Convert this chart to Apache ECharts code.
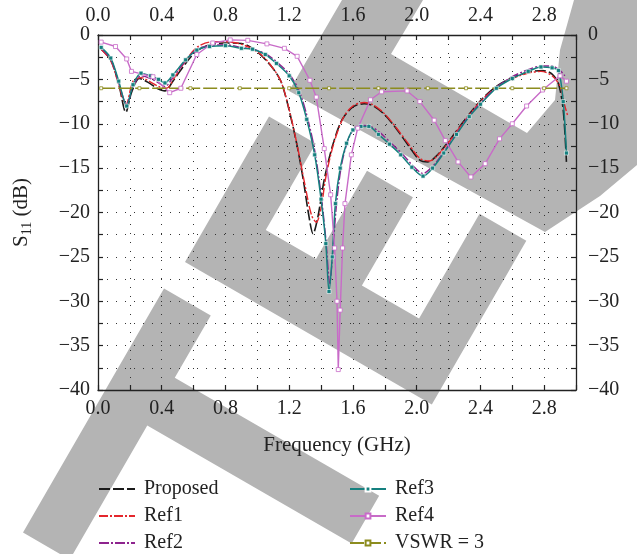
<!DOCTYPE html>
<html>
<head>
<meta charset="utf-8">
<script src="https://cdn.jsdelivr.net/npm/echarts@6/dist/echarts.min.js"></script>
<style>
  html, body { margin: 0; background: #fff; }
  #chart { width: 637px; height: 554px; }
</style>
</head>
<body>
<div id="chart"></div>
<script>
// frequency (GHz) / S11 (dB)
const proposedFreq = [0.02,0.08,0.13,0.175,0.21,0.26,0.32,0.37,0.42,0.47,0.55,0.62,0.7,0.8,0.9,0.97,1.03,1.1,1.15,1.2,1.25,1.29,1.32,1.35,1.38,1.42,1.47,1.53,1.6,1.67,1.73,1.8,1.87,1.95,2.02,2.07,2.12,2.2,2.3,2.4,2.5,2.6,2.7,2.79,2.85,2.89,2.92,2.94];
const proposedDb = [-1.6,-2.8,-5.5,-8.7,-6.5,-4.9,-5.4,-6.0,-6.3,-5.2,-3.2,-1.8,-1.1,-0.9,-0.95,-1.5,-2.4,-3.8,-5.3,-8.5,-12.5,-16.5,-20,-22.4,-20.5,-16.3,-12.6,-9.6,-8.1,-7.75,-8.0,-9.0,-10.5,-12.5,-14.1,-14.3,-13.7,-12.0,-9.6,-7.4,-5.8,-4.8,-4.2,-4.0,-4.4,-5.5,-8.5,-14.3];

const ref1Freq = [0.02,0.08,0.13,0.175,0.22,0.27,0.33,0.38,0.43,0.48,0.55,0.62,0.7,0.78,0.87,0.95,1.03,1.1,1.15,1.2,1.25,1.3,1.34,1.37,1.4,1.43,1.48,1.54,1.6,1.67,1.73,1.8,1.87,1.95,2.02,2.08,2.13,2.2,2.3,2.4,2.5,2.6,2.7,2.78,2.85,2.9,2.93,2.95];
const ref1Db = [-1.6,-2.9,-5.6,-7.9,-5.2,-4.8,-5.3,-5.8,-6.0,-4.8,-2.9,-1.4,-0.8,-0.75,-0.9,-1.4,-2.3,-3.8,-5.3,-8.4,-12.4,-17.0,-20.3,-21.1,-19.5,-16.0,-12.2,-9.3,-8.0,-7.6,-7.9,-8.9,-10.4,-12.3,-13.9,-14.2,-13.6,-12.1,-9.7,-7.5,-5.9,-4.9,-4.3,-4.1,-4.6,-5.8,-8.0,-9.2];

const ref2Freq = [0.02,0.08,0.13,0.18,0.22,0.27,0.33,0.38,0.42,0.47,0.55,0.62,0.7,0.8,0.9,0.97,1.05,1.12,1.2,1.26,1.31,1.36,1.4,1.43,1.455,1.475,1.5,1.53,1.57,1.61,1.66,1.71,1.77,1.84,1.91,1.98,2.04,2.1,2.17,2.25,2.33,2.4,2.5,2.6,2.7,2.78,2.85,2.9,2.93];
const ref2Db = [-1.5,-2.7,-5.4,-7.8,-5.8,-4.6,-4.9,-5.4,-5.8,-4.8,-2.9,-1.6,-1.2,-1.1,-1.4,-1.6,-2.1,-3.0,-4.4,-6.2,-9.0,-13.0,-18.0,-23.0,-28.0,-24.0,-18.5,-14.5,-11.8,-10.5,-10.2,-10.3,-11.0,-12.2,-13.4,-14.8,-15.6,-14.8,-13.2,-11.1,-9.1,-7.7,-5.9,-4.7,-3.9,-3.5,-3.5,-4.0,-4.6];

const ref3Freq = [0.02,0.08,0.13,0.18,0.22,0.27,0.33,0.38,0.42,0.47,0.55,0.62,0.7,0.8,0.9,0.97,1.05,1.12,1.2,1.26,1.31,1.36,1.4,1.43,1.45,1.47,1.49,1.52,1.56,1.6,1.65,1.7,1.76,1.83,1.9,1.97,2.04,2.1,2.17,2.25,2.33,2.4,2.5,2.6,2.7,2.78,2.85,2.89,2.92,2.94];
const ref3Db = [-1.4,-2.6,-5.2,-8.0,-5.6,-4.3,-4.6,-5.0,-5.4,-4.5,-2.8,-1.7,-1.3,-1.2,-1.5,-1.6,-2.2,-3.2,-4.6,-6.5,-9.5,-13.5,-18.5,-23.5,-28.9,-25.0,-19.0,-15.0,-12.2,-10.7,-10.3,-10.3,-11.2,-12.3,-13.5,-14.9,-15.9,-15.0,-13.3,-11.2,-9.2,-7.8,-6.0,-4.9,-4.1,-3.6,-3.7,-4.0,-7.5,-13.3];

const ref4Freq = [0.02,0.11,0.18,0.21,0.345,0.45,0.52,0.62,0.72,0.83,0.94,1.06,1.17,1.25,1.33,1.37,1.42,1.46,1.485,1.5,1.508,1.52,1.535,1.55,1.59,1.63,1.71,1.78,1.94,2.02,2.11,2.18,2.26,2.34,2.43,2.52,2.6,2.69,2.79,2.9,2.94];
const ref4Db = [-0.8,-1.3,-2.7,-4.1,-4.7,-6.5,-6.0,-2.2,-0.9,-0.55,-0.6,-1.0,-1.5,-2.4,-5.1,-7.0,-12.8,-18.0,-24.0,-30.0,-37.7,-31.0,-24.0,-19.0,-13.5,-10.5,-7.3,-6.4,-6.3,-7.5,-9.6,-11.9,-14.3,-16.0,-14.5,-11.7,-10.0,-8.0,-6.2,-4.6,-5.2];

const vswrFreq = [0.02,0.26,0.58,0.89,1.2,1.45,1.76,2.07,2.31,2.6,2.8,2.94];
const vswrDb = [-6.0,-6.0,-6.0,-6.0,-6.0,-6.0,-6.0,-6.0,-6.0,-6.0,-6.0,-6.0];

const xTicks = [0.0, 0.4, 0.8, 1.2, 1.6, 2.0, 2.4, 2.8];
const yTicks = [0, -5, -10, -15, -20, -25, -30, -35, -40];

const FONT = "\"Liberation Serif\", \"DejaVu Serif\", serif";
const INK = "#222";
const WM_GRAY = "#b4b4b4";

// background watermark letters, drawn in a rotated letter frame
const WM_ANGLE = 30 * Math.PI / 180;
function wmPoints(origin, pts) {
  const c = Math.cos(WM_ANGLE), s = Math.sin(WM_ANGLE);
  return pts.map(([a, b]) => [origin[0] + a * c + b * s, origin[1] + a * s - b * c]);
}
const wmShapes = [
  wmPoints([58, 472], [[0,-70],[54,-70],[54,85],[290,85],[290,140],[54,140],[54,212],[0,212]]),
  wmPoints([185, 262], [[0,0],[285,0],[285,189],[231,189],[231,68],[165,68],[165,170],[112,170],[112,68],[54,68],[54,168],[0,168]]),
  // curved letter at the top right, traced directly in pixels
  [[342,0],[289,91],[545,232],[600,196],[637,165],[637,0],[574,0],[560,50],[555,100],[527,133],[391,54],[423,0]]
];

function pairs(xs, ys) { return xs.map((x, i) => [x, ys[i]]); }
function minus(v) { return v < 0 ? "\u2212" + Math.abs(v) : String(v); }

function xAxisOf(position, withName) {
  return {
    type: "value", position, min: 0, max: 3, interval: 0.2,
    axisLine: { onZero: false, lineStyle: { color: INK, width: 1.3 } },
    axisTick: { inside: true, length: 5, lineStyle: { color: INK, width: 1.2 } },
    axisLabel: {
      color: INK, fontFamily: FONT, fontSize: 20, margin: 9,
      formatter: v => xTicks.some(t => Math.abs(t - v) < 1e-6) ? v.toFixed(1) : ""
    },
    splitLine: { show: withName, lineStyle: { color: "#333", width: 1, type: [1, 8] } },
    name: withName ? "Frequency (GHz)" : "",
    nameLocation: "middle", nameGap: 45,
    nameTextStyle: { color: INK, fontFamily: FONT, fontSize: 21 }
  };
}
function yAxisOf(position, withName) {
  return {
    type: "value", position, min: -40, max: 0, interval: 2.5,
    axisLine: { onZero: false, lineStyle: { color: INK, width: 1.3 } },
    axisTick: { inside: true, length: 5, lineStyle: { color: INK, width: 1.2 } },
    axisLabel: {
      color: INK, fontFamily: FONT, fontSize: 20, margin: position === "left" ? 8 : 12,
      formatter: v => yTicks.includes(v) ? minus(v) : ""
    },
    splitLine: { show: withName, lineStyle: { color: "#333", width: 1, type: [1, 8] } },
    name: withName ? "{s|S}{sub|11}{s| (dB)}" : "",
    nameLocation: "middle", nameGap: 64,
    nameTextStyle: {
      color: INK, fontFamily: FONT,
      rich: {
        s: { fontFamily: FONT, fontSize: 21, color: INK, lineHeight: 26, verticalAlign: "middle" },
        sub: { fontFamily: FONT, fontSize: 14, color: INK, lineHeight: 26, verticalAlign: "bottom" }
      }
    }
  };
}

function lineSeries(name, xs, ys, color, extra) {
  return Object.assign({
    type: "line", name, data: pairs(xs, ys),
    xAxisIndex: 0, yAxisIndex: 0,
    smooth: 0.3, symbol: "none",
    lineStyle: { color, width: 1.5 },
    itemStyle: { color: "rgba(0,0,0,0)" },
    emphasis: { disabled: true }
  }, extra);
}

const series = [
  lineSeries("Proposed", proposedFreq, proposedDb, "#1a1a1a", { lineStyle: { color: "#1a1a1a", width: 1.6, type: [11, 3] } }),
  lineSeries("Ref1", ref1Freq, ref1Db, "#e4262c", { lineStyle: { color: "#e4262c", width: 1.4, type: [9, 2, 2, 2] } }),
  lineSeries("Ref2", ref2Freq, ref2Db, "#8e238e", { lineStyle: { color: "#8e238e", width: 1.4, type: [10, 2, 2, 2] } }),
  lineSeries("Ref3", ref3Freq, ref3Db, "#15807f", {
    symbol: "rect", symbolSize: 4,
    itemStyle: { color: "#15807f", borderColor: "#fff", borderWidth: 0.6 },
    lineStyle: { color: "#15807f", width: 1.5 }
  }),
  lineSeries("Ref4", ref4Freq, ref4Db, "#c86bc8", {
    smooth: false, symbol: "rect", symbolSize: 4,
    itemStyle: { color: "#fff", borderColor: "#c86bc8", borderWidth: 0.8 },
    lineStyle: { color: "#c86bc8", width: 1.4 }
  }),
  lineSeries("VSWR = 3", vswrFreq, vswrDb, "#8c8c1e", {
    smooth: false, symbol: "rect", symbolSize: 3,
    itemStyle: { color: "#fff", borderColor: "#8c8c1e", borderWidth: 0.8 },
    lineStyle: { color: "#8c8c1e", width: 1.5, type: [14, 3] }
  })
];

function legendOf(names, left) {
  return {
    data: names, orient: "vertical", left, top: 474, height: 90,
    itemWidth: 36, itemHeight: 6, itemGap: 7,
    selectedMode: false,
    textStyle: { color: INK, fontFamily: FONT, fontSize: 20, padding: [0, 0, 0, 4] }
  };
}

const chart = echarts.init(document.getElementById("chart"), null, { renderer: "canvas" });
chart.setOption({
  animation: false,
  backgroundColor: "#fff",
  grid: { left: 98, right: 61, top: 35, bottom: 164 },
  xAxis: [xAxisOf("bottom", true), xAxisOf("top", false)],
  yAxis: [yAxisOf("left", true), yAxisOf("right", false)],
  legend: [legendOf(["Proposed", "Ref1", "Ref2"], 93), legendOf(["Ref3", "Ref4", "VSWR = 3"], 344)],
  graphic: wmShapes.map(points => ({
    type: "polygon", z: -10, silent: true,
    shape: { points }, style: { fill: WM_GRAY }
  })),
  series
});
</script>
</body>
</html>
